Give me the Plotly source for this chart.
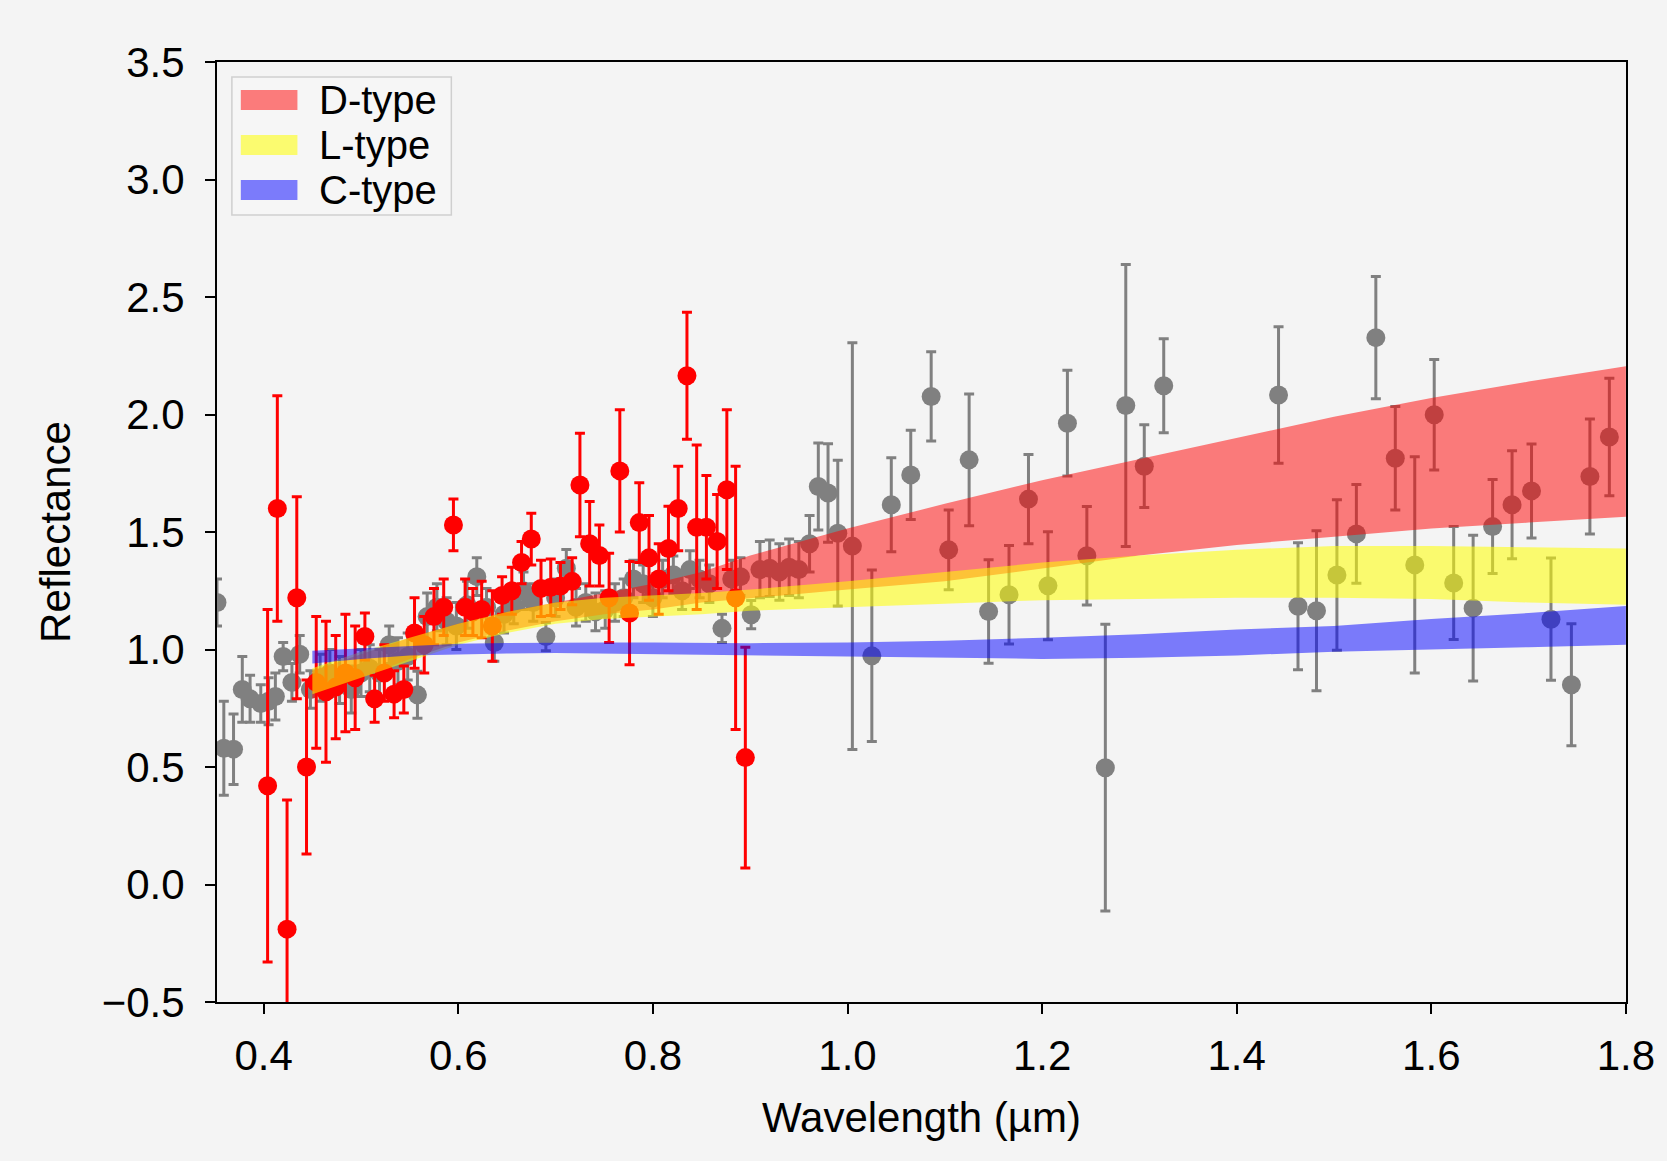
import plotly.graph_objects as go

# ---------------- data ----------------
# Red series (visible spectrum)
red_x = [0.404, 0.414, 0.424, 0.434, 0.444, 0.454, 0.464, 0.474, 0.484, 0.494,
         0.504, 0.514, 0.524, 0.534, 0.544, 0.555, 0.565, 0.575, 0.585, 0.595,
         0.607, 0.615, 0.624, 0.635, 0.645, 0.655, 0.665, 0.675, 0.685, 0.695,
         0.705, 0.717, 0.725, 0.735, 0.745, 0.755, 0.766, 0.776, 0.786, 0.796,
         0.806, 0.816, 0.826, 0.835, 0.845, 0.855, 0.866, 0.876, 0.885, 0.895]
red_y = [0.42, 1.60, -0.19, 1.22, 0.50, 0.86, 0.82, 0.84, 0.90, 0.88,
         1.055, 0.79, 0.90, 0.81, 0.83, 1.07, 1.02, 1.14, 1.18, 1.53,
         1.18, 1.16, 1.17, 1.10, 1.23, 1.25, 1.37, 1.47, 1.26, 1.265,
         1.27, 1.29, 1.70, 1.45, 1.40, 1.22, 1.76, 1.155, 1.54, 1.39,
         1.30, 1.43, 1.60, 2.165, 1.52, 1.52, 1.46, 1.68, 1.22, 0.54]
red_err = [0.75, 0.48, 0.55, 0.43, 0.37, 0.28, 0.30, 0.22, 0.25, 0.22,
           0.10, 0.10, 0.12, 0.10, 0.10, 0.15, 0.12, 0.12, 0.12, 0.11,
           0.12, 0.10, 0.12, 0.15, 0.08, 0.10, 0.09, 0.11, 0.12, 0.12,
           0.10, 0.10, 0.22, 0.18, 0.13, 0.19, 0.26, 0.22, 0.17, 0.18,
           0.15, 0.18, 0.18, 0.27, 0.35, 0.22, 0.20, 0.34, 0.56, 0.47]

# Gray series (visible + near infrared)
gray_x = [0.352, 0.359, 0.369, 0.378, 0.386, 0.397, 0.405, 0.412, 0.420, 0.429,
          0.437, 0.448, 0.458, 0.468, 0.478, 0.490, 0.500, 0.509, 0.519, 0.529,
          0.538, 0.548, 0.558, 0.568, 0.578, 0.588, 0.598, 0.609, 0.619, 0.629,
          0.637, 0.647, 0.657, 0.667, 0.677, 0.690, 0.700, 0.711, 0.721, 0.731,
          0.741, 0.751, 0.761, 0.770, 0.780, 0.790, 0.800, 0.810, 0.821, 0.830,
          0.838, 0.848, 0.858, 0.871, 0.881, 0.890, 0.901, 0.910, 0.920, 0.930,
          0.940, 0.950, 0.961, 0.970, 0.980, 0.990, 1.005, 1.025, 1.045, 1.065,
          1.086, 1.104, 1.125, 1.145, 1.166, 1.186, 1.206, 1.226, 1.246, 1.265,
          1.286, 1.305, 1.325, 1.443, 1.463, 1.482, 1.503, 1.523, 1.543, 1.563,
          1.583, 1.603, 1.623, 1.643, 1.663, 1.683, 1.703, 1.723, 1.744, 1.763,
          1.783]
gray_y = [1.20, 0.58, 0.576, 0.83, 0.79, 0.77, 0.78, 0.80, 0.97, 0.86,
          0.98, 0.83, 0.88, 0.90, 0.87, 0.83, 0.90, 0.92, 0.90, 1.02,
          0.95, 0.97, 0.807, 1.14, 1.18, 1.12, 1.10, 1.19, 1.31, 1.18,
          1.03, 1.15, 1.19, 1.25, 1.20, 1.055, 1.22, 1.346, 1.18, 1.20,
          1.16, 1.17, 1.20, 1.22, 1.30, 1.28, 1.22, 1.30, 1.318, 1.25,
          1.34, 1.30, 1.28, 1.09, 1.30, 1.31, 1.148, 1.34, 1.346, 1.33,
          1.35, 1.34, 1.45, 1.694, 1.666, 1.495, 1.44, 0.973, 1.616, 1.743,
          2.077, 1.424, 1.807, 1.162, 1.233, 1.64, 1.271, 1.963, 1.399, 0.497,
          2.038, 1.78, 2.122, 2.083, 1.184, 1.165, 1.317, 1.492, 2.327, 1.814,
          1.36, 1.999, 1.283, 1.176, 1.523, 1.616, 1.675, 1.129, 0.85, 1.736,
          1.904]
gray_err = [0.10, 0.20, 0.15, 0.14, 0.10, 0.08, 0.10, 0.10, 0.06, 0.08,
            0.08, 0.08, 0.10, 0.10, 0.10, 0.10, 0.10, 0.10, 0.10, 0.08,
            0.10, 0.10, 0.10, 0.10, 0.10, 0.10, 0.10, 0.10, 0.08, 0.08,
            0.08, 0.08, 0.08, 0.08, 0.08, 0.06, 0.08, 0.08, 0.08, 0.08,
            0.08, 0.08, 0.08, 0.08, 0.08, 0.08, 0.08, 0.08, 0.08, 0.08,
            0.08, 0.08, 0.08, 0.06, 0.08, 0.08, 0.06, 0.12, 0.12, 0.12,
            0.12, 0.12, 0.12, 0.185, 0.21, 0.31, 0.865, 0.365, 0.20, 0.19,
            0.19, 0.17, 0.28, 0.22, 0.21, 0.19, 0.23, 0.225, 0.21, 0.61,
            0.60, 0.176, 0.20, 0.29, 0.27, 0.34, 0.32, 0.21, 0.26, 0.22,
            0.46, 0.235, 0.24, 0.31, 0.20, 0.23, 0.20, 0.26, 0.26, 0.245,
            0.25]

# Taxonomic envelopes
band_x = [0.45, 0.50, 0.55, 0.60, 0.65, 0.70, 0.75, 0.80, 0.85, 0.90,
          1.00, 1.10, 1.20, 1.30, 1.40, 1.50, 1.60, 1.70, 1.80]
d_low = [0.79, 0.88, 0.96, 1.03, 1.08, 1.12, 1.15, 1.17, 1.20, 1.22,
         1.255, 1.29, 1.345, 1.40, 1.445, 1.48, 1.515, 1.54, 1.565]
d_high = [0.91, 0.98, 1.05, 1.11, 1.16, 1.20, 1.24, 1.28, 1.33, 1.40,
          1.515, 1.62, 1.72, 1.81, 1.90, 1.99, 2.07, 2.14, 2.205]
l_low = [0.81, 0.88, 0.95, 1.02, 1.07, 1.11, 1.13, 1.14, 1.15, 1.165,
         1.18, 1.195, 1.21, 1.215, 1.22, 1.22, 1.215, 1.20, 1.19]
l_high = [0.92, 0.99, 1.05, 1.11, 1.16, 1.20, 1.22, 1.23, 1.24, 1.255,
          1.29, 1.33, 1.37, 1.40, 1.425, 1.44, 1.44, 1.435, 1.43]
c_low = [0.94, 0.96, 0.975, 0.98, 0.983, 0.985, 0.983, 0.98, 0.978, 0.977,
         0.972, 0.965, 0.96, 0.965, 0.975, 0.99, 1.00, 1.01, 1.02]
c_high = [0.995, 1.005, 1.015, 1.025, 1.028, 1.03, 1.03, 1.03, 1.028, 1.027,
          1.03, 1.037, 1.05, 1.065, 1.085, 1.10, 1.13, 1.155, 1.185]

band_names = ["D-type", "L-type", "C-type"]
band_colors = ["rgba(255,0,0,0.5)", "rgba(255,255,0,0.55)", "rgba(0,0,255,0.5)"]

x_ticks = [0.4, 0.6, 0.8, 1.0, 1.2, 1.4, 1.6, 1.8]
y_ticks = [-0.5, 0.0, 0.5, 1.0, 1.5, 2.0, 2.5, 3.0, 3.5]

# ---------------- figure ----------------
FONT = "Liberation Sans, Arial, Helvetica, sans-serif"
BG = "#f4f4f4"
W, H = 1667, 1161
ML, MR, MT, MB = 217, 31, 62, 159
PW, PH = W - ML - MR, H - MT - MB


def px(xp):
    return (xp - ML) / PW


def py(yp):
    return 1 - (yp - MT) / PH


fig = go.Figure()

fig.add_trace(go.Scatter(
    x=gray_x, y=gray_y, mode="markers", showlegend=False,
    marker=dict(color="rgb(128,128,128)", size=19),
    error_y=dict(type="data", array=gray_err, visible=True,
                 color="rgb(128,128,128)", thickness=3, width=5),
))
fig.add_trace(go.Scatter(
    x=red_x, y=red_y, mode="markers", showlegend=False,
    marker=dict(color="rgb(255,0,0)", size=19),
    error_y=dict(type="data", array=red_err, visible=True,
                 color="rgb(255,0,0)", thickness=3, width=5),
))

for name, color, lo, hi in zip(band_names, band_colors,
                               [d_low, l_low, c_low], [d_high, l_high, c_high]):
    fig.add_trace(go.Scatter(
        x=band_x + band_x[::-1], y=hi + lo[::-1],
        fill="toself", fillcolor=color, mode="lines",
        line=dict(width=0, color=color), name=name, hoverinfo="skip",
        showlegend=False,
    ))

# legend drawn as box + patches + text (matplotlib-like)
shapes = [dict(type="rect", xref="paper", yref="paper",
               x0=px(232), x1=px(453), y0=py(215), y1=py(77),
               fillcolor="rgba(246,246,246,0.85)",
               line=dict(color="#cfcfcf", width=1.5), layer="above")]
annotations = []
for i, (name, color) in enumerate(zip(band_names, band_colors)):
    yc = 100 + i * 45
    shapes.append(dict(type="rect", xref="paper", yref="paper",
                       x0=px(241), x1=px(298), y0=py(yc + 10), y1=py(yc - 10),
                       fillcolor=color, line=dict(width=0), layer="above"))
    annotations.append(dict(text=name, xref="paper", yref="paper",
                            x=px(318), y=py(yc), xanchor="left",
                            yanchor="middle", showarrow=False,
                            font=dict(size=40, family=FONT, color="black")))

fig.update_layout(
    width=W, height=H,
    margin=dict(l=ML, r=MR, t=MT, b=MB),
    paper_bgcolor=BG, plot_bgcolor=BG,
    font=dict(family=FONT, size=42, color="black"),
    showlegend=False,
    shapes=shapes, annotations=annotations,
)
fig.update_xaxes(
    range=[0.352, 1.8001], tickvals=x_ticks,
    ticktext=[f"{v:.1f}" for v in x_ticks],
    showgrid=False, zeroline=False, showline=True, linecolor="black",
    linewidth=2, mirror=True, ticks="outside", ticklen=10, tickwidth=2,
    tickcolor="black", ticklabelstandoff=6, ticklabeloverflow="allow",
    title=dict(text="Wavelength (µm)", font=dict(size=42), standoff=24),
)
fig.update_yaxes(
    range=[-0.5, 3.5], tickvals=y_ticks,
    ticktext=[(f"{v:.1f}").replace("-", "\u2212") for v in y_ticks],
    showgrid=False, zeroline=False, showline=True, linecolor="black",
    linewidth=2, mirror=True, ticks="outside", ticklen=10, tickwidth=2,
    tickcolor="black", ticklabelstandoff=12,
    title=dict(text="Reflectance", font=dict(size=42), standoff=18),
)

fig.write_html("out.html")
